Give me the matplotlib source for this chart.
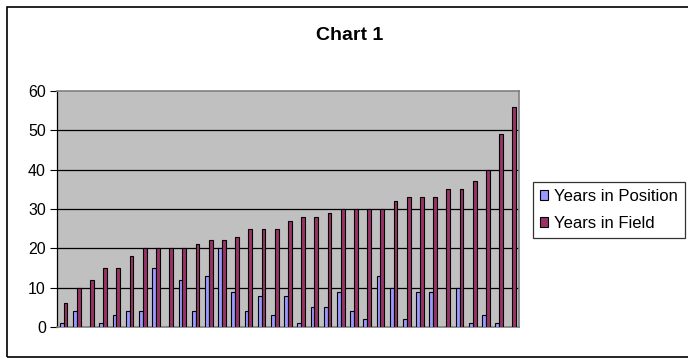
import matplotlib.pyplot as plt
import numpy as np
from matplotlib.patches import Rectangle

plt.rcParams['font.family'] = ['Liberation Sans', 'DejaVu Sans']

# Years per person, sorted by years in field
years_in_position = [1, 4, 0, 1, 3, 4, 4, 15, 0, 12, 4, 13, 20, 9, 4, 8, 3, 8,
                     1, 5, 5, 9, 4, 2, 13, 10, 2, 9, 9, 0, 10, 1, 3, 1, 0]
years_in_field = [6, 10, 12, 15, 15, 18, 20, 20, 20, 20, 21, 22, 22, 23, 25, 25, 25, 27,
                  28, 28, 29, 30, 30, 30, 30, 32, 33, 33, 33, 35, 35, 37, 40, 49, 56]
series_names = ['Years in Position', 'Years in Field']
series_colors = ['#9999FF', '#993366']
y_ticks = [0, 10, 20, 30, 40, 50, 60]

fig = plt.figure(figsize=(6.88, 3.58), dpi=100)

# outer chart border
fig.patches.append(Rectangle((7 / 688, 1.5 / 358), 2, 349.5 / 358, transform=fig.transFigure,
                             fill=False, edgecolor='black', linewidth=1.2))

ax = fig.add_axes([57 / 688, 31 / 358, 462 / 688, 236 / 358])
ax.set_facecolor('#C0C0C0')

n = len(years_in_field)
x = np.arange(n)
w = 1 / 3.5
ax.bar(x - w / 2, years_in_position, width=w, color=series_colors[0],
       edgecolor='black', linewidth=0.8, label=series_names[0], zorder=3)
ax.bar(x + w / 2, years_in_field, width=w, color=series_colors[1],
       edgecolor='black', linewidth=0.8, label=series_names[1], zorder=3)

ax.set_xlim(-0.5, n - 0.5)
ax.set_ylim(0, 60)
ax.set_yticks(y_ticks)
ax.tick_params(axis='y', labelsize=11.5, length=5, width=0.8, direction='out', pad=3)
ax.set_xticks([])
for y in y_ticks[1:-1]:
    ax.axhline(y, color='black', linewidth=0.9, zorder=2)

for side in ['top', 'right', 'bottom']:
    ax.spines[side].set_color('#808080')
    ax.spines[side].set_linewidth(1.2)
ax.spines['left'].set_color('black')
ax.spines['left'].set_linewidth(0.9)

fig.text(350 / 688, 1 - 35 / 358, 'Chart 1', ha='center', va='center',
         fontsize=14, fontweight='bold')

leg = fig.legend(loc='upper left', bbox_to_anchor=(533 / 688, 1 - 182 / 358),
                 fontsize=12, frameon=True, fancybox=False, handlelength=0.5,
                 handleheight=0.5, handletextpad=0.35, borderpad=0.42,
                 labelspacing=0.72, borderaxespad=0)
leg.get_frame().set_edgecolor('black')
leg.get_frame().set_linewidth(0.9)

fig.savefig('out.png', dpi=100)
